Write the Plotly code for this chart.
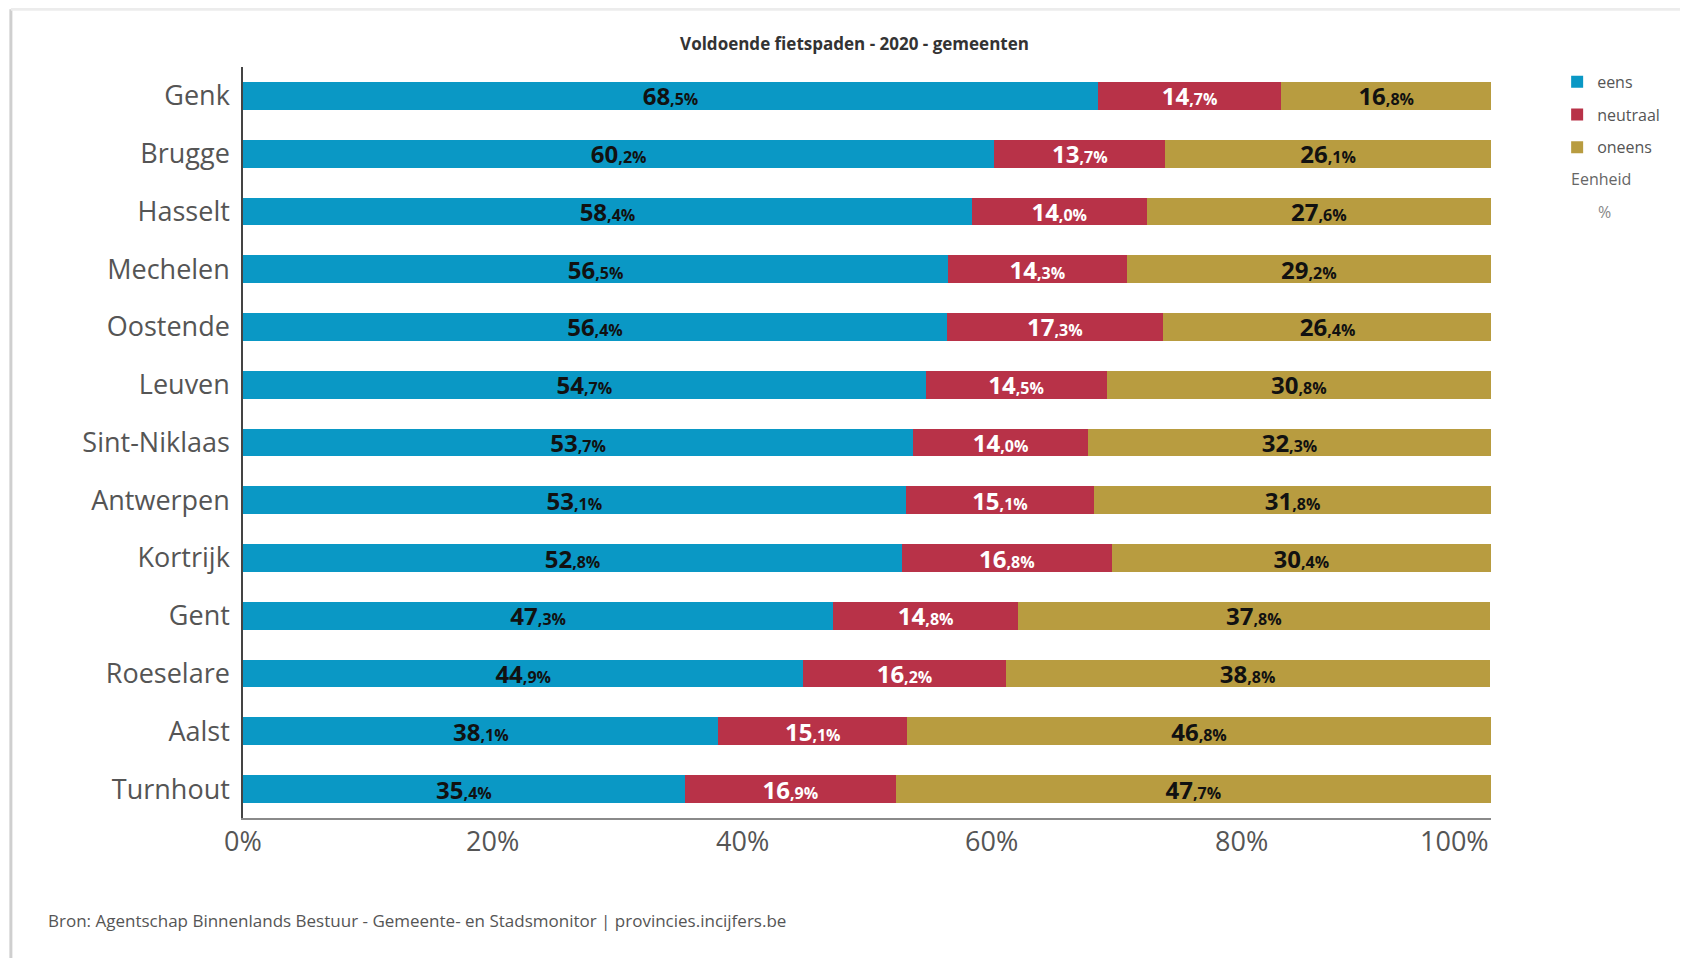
import plotly.graph_objects as go

# data (percentages)
gemeenten = ['Genk', 'Brugge', 'Hasselt', 'Mechelen', 'Oostende', 'Leuven', 'Sint-Niklaas',
             'Antwerpen', 'Kortrijk', 'Gent', 'Roeselare', 'Aalst', 'Turnhout']
eens = [68.5, 60.2, 58.4, 56.5, 56.4, 54.7, 53.7, 53.1, 52.8, 47.3, 44.9, 38.1, 35.4]
neutraal = [14.7, 13.7, 14.0, 14.3, 17.3, 14.5, 14.0, 15.1, 16.8, 14.8, 16.2, 15.1, 16.9]
oneens = [16.8, 26.1, 27.6, 29.2, 26.4, 30.8, 32.3, 31.8, 30.4, 37.8, 38.8, 46.8, 47.7]
x_ticks = [0, 20, 40, 60, 80, 100]
x_tick_labels = ['0%', '20%', '40%', '60%', '80%', '100%']

FONT = 'Open Sans'


def label(v):
    # Dutch decimal comma, decimal part drawn smaller like the original
    whole, dec = f'{v:.1f}'.split('.')
    return f"<b>{whole}</b><b><span style='font-size:16px'>,{dec}%</span></b>"


fig = go.Figure()

series = [
    ('eens', eens, '#0A98C5', '#111111'),
    ('neutraal', neutraal, '#B83248', '#FFFFFF'),
    ('oneens', oneens, '#B89C40', '#111111'),
]
for name, vals, color, txtcolor in series:
    fig.add_trace(go.Bar(
        y=gemeenten, x=vals, orientation='h', name=name,
        legendgroup=name,
        marker=dict(color=color, line=dict(width=0)),
        text=[label(v) for v in vals],
        textposition='inside', insidetextanchor='middle', textangle=0,
        insidetextfont=dict(family=FONT, size=24, color=txtcolor),
        constraintext='none',
    ))

# x tick labels (last one right-aligned to the plot edge, like the source)
for v, t in zip(x_ticks, x_tick_labels):
    fig.add_annotation(x=v, y=0, xref='x', yref='paper', yshift=-2,
                       text=t, showarrow=False, yanchor='top',
                       xanchor='right' if v == x_ticks[-1] else 'center',
                       font=dict(family=FONT, size=27, color='#555555'))

# legend unit note and source
fig.add_annotation(x=1.0625, y=0.851, xref='paper', yref='paper', text='Eenheid',
                   showarrow=False, xanchor='left', yanchor='middle',
                   font=dict(family=FONT, size=16, color='#666666'))
fig.add_annotation(x=1.084, y=0.807, xref='paper', yref='paper', text='%',
                   showarrow=False, xanchor='left', yanchor='middle',
                   font=dict(family=FONT, size=16, color='#888888'))
fig.add_annotation(x=-0.158, y=-0.136, xref='paper', yref='paper',
                   text='Bron: Agentschap Binnenlands Bestuur - Gemeente- en Stadsmonitor | provincies.incijfers.be',
                   showarrow=False, xanchor='left', yanchor='middle',
                   font=dict(family=FONT, size=17, color='#555555'))

# soft card border of the screenshot
fig.add_shape(type='line', xref='paper', yref='paper', x0=-0.186, x1=-0.186, y0=1.077, y1=-0.2,
              line=dict(color='#cfcfcf', width=3))
fig.add_shape(type='line', xref='paper', yref='paper', x0=-0.186, x1=1.16, y0=1.077, y1=1.077,
              line=dict(color='#ececec', width=3))

fig.update_layout(
    width=1680, height=950,
    margin=dict(l=235, r=197, t=59, b=140),
    paper_bgcolor='white', plot_bgcolor='white',
    barmode='stack', bargap=0.52,
    title=dict(text='<b>Voldoende fietspaden - 2020 - gemeenten</b>',
               x=0.49, xref='paper', xanchor='center', y=0.962, yanchor='middle',
               font=dict(family=FONT, size=17, color='#333333')),
    xaxis=dict(range=[0, 100], showgrid=False, zeroline=False, showticklabels=False,
               showline=True, linecolor='#8a8a8a', linewidth=2, fixedrange=True),
    yaxis=dict(autorange='reversed', showgrid=False, showline=True, linecolor='#444444',
               linewidth=1.5, ticks='', ticklabelstandoff=6,
               tickfont=dict(family=FONT, size=27, color='#555555')),
    legend=dict(x=1.053, y=1.003, xanchor='left', yanchor='top', traceorder='grouped',
                tracegroupgap=9, font=dict(family=FONT, size=16, color='#555555'),
                bgcolor='rgba(0,0,0,0)'),
    font=dict(family=FONT),
)

fig.write_html('out.html')
